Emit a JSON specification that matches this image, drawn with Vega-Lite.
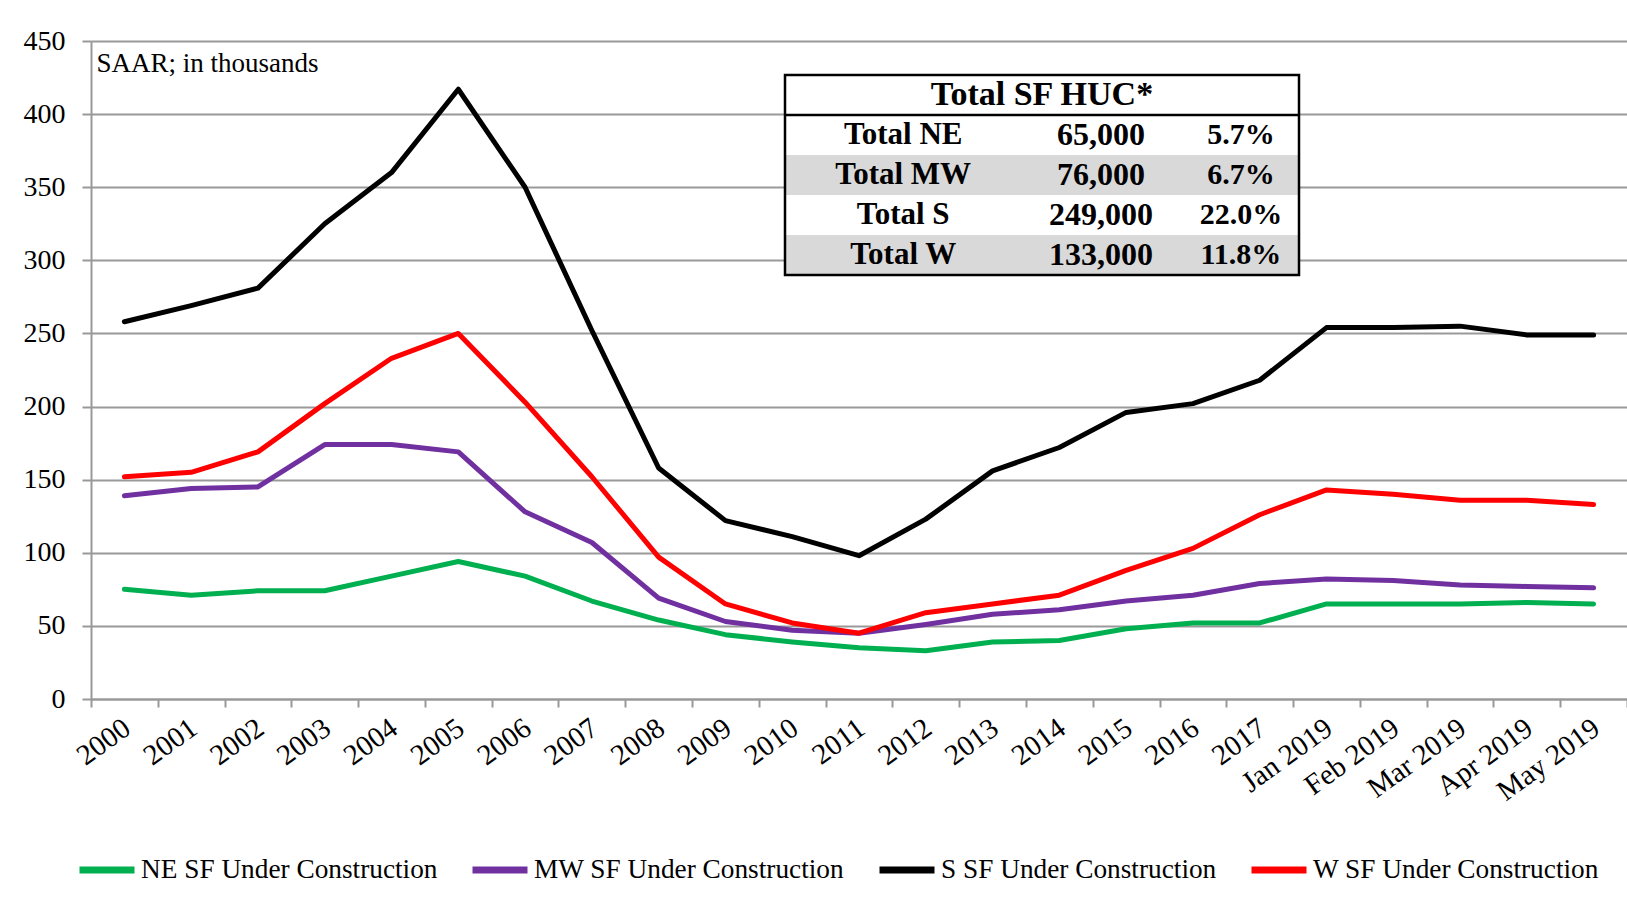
{
  "$schema": "https://vega.github.io/schema/vega-lite/v6.json",
  "width": 1536,
  "height": 658,
  "autosize": {"type": "none"},
  "padding": {"left": 91, "top": 41, "right": 0, "bottom": 216},
  "background": "white",
  "config": {"font": "Liberation Serif", "view": {"stroke": null}},
  "layer": [
    {
      "data": {"values": [
        {"period": "2000", "NE SF Under Construction": 75, "MW SF Under Construction": 139, "S SF Under Construction": 258, "W SF Under Construction": 152},
        {"period": "2001", "NE SF Under Construction": 71, "MW SF Under Construction": 144, "S SF Under Construction": 269, "W SF Under Construction": 155},
        {"period": "2002", "NE SF Under Construction": 74, "MW SF Under Construction": 145, "S SF Under Construction": 281, "W SF Under Construction": 169},
        {"period": "2003", "NE SF Under Construction": 74, "MW SF Under Construction": 174, "S SF Under Construction": 325, "W SF Under Construction": 202},
        {"period": "2004", "NE SF Under Construction": 84, "MW SF Under Construction": 174, "S SF Under Construction": 360, "W SF Under Construction": 233},
        {"period": "2005", "NE SF Under Construction": 94, "MW SF Under Construction": 169, "S SF Under Construction": 417, "W SF Under Construction": 250},
        {"period": "2006", "NE SF Under Construction": 84, "MW SF Under Construction": 128, "S SF Under Construction": 350, "W SF Under Construction": 203},
        {"period": "2007", "NE SF Under Construction": 67, "MW SF Under Construction": 107, "S SF Under Construction": 252, "W SF Under Construction": 152},
        {"period": "2008", "NE SF Under Construction": 54, "MW SF Under Construction": 69, "S SF Under Construction": 158, "W SF Under Construction": 97},
        {"period": "2009", "NE SF Under Construction": 44, "MW SF Under Construction": 53, "S SF Under Construction": 122, "W SF Under Construction": 65},
        {"period": "2010", "NE SF Under Construction": 39, "MW SF Under Construction": 47, "S SF Under Construction": 111, "W SF Under Construction": 52},
        {"period": "2011", "NE SF Under Construction": 35, "MW SF Under Construction": 45, "S SF Under Construction": 98, "W SF Under Construction": 45},
        {"period": "2012", "NE SF Under Construction": 33, "MW SF Under Construction": 51, "S SF Under Construction": 123, "W SF Under Construction": 59},
        {"period": "2013", "NE SF Under Construction": 39, "MW SF Under Construction": 58, "S SF Under Construction": 156, "W SF Under Construction": 65},
        {"period": "2014", "NE SF Under Construction": 40, "MW SF Under Construction": 61, "S SF Under Construction": 172, "W SF Under Construction": 71},
        {"period": "2015", "NE SF Under Construction": 48, "MW SF Under Construction": 67, "S SF Under Construction": 196, "W SF Under Construction": 88},
        {"period": "2016", "NE SF Under Construction": 52, "MW SF Under Construction": 71, "S SF Under Construction": 202, "W SF Under Construction": 103},
        {"period": "2017", "NE SF Under Construction": 52, "MW SF Under Construction": 79, "S SF Under Construction": 218, "W SF Under Construction": 126},
        {"period": "Jan 2019", "NE SF Under Construction": 65, "MW SF Under Construction": 82, "S SF Under Construction": 254, "W SF Under Construction": 143},
        {"period": "Feb 2019", "NE SF Under Construction": 65, "MW SF Under Construction": 81, "S SF Under Construction": 254, "W SF Under Construction": 140},
        {"period": "Mar 2019", "NE SF Under Construction": 65, "MW SF Under Construction": 78, "S SF Under Construction": 255, "W SF Under Construction": 136},
        {"period": "Apr 2019", "NE SF Under Construction": 66, "MW SF Under Construction": 77, "S SF Under Construction": 249, "W SF Under Construction": 136},
        {"period": "May 2019", "NE SF Under Construction": 65, "MW SF Under Construction": 76, "S SF Under Construction": 249, "W SF Under Construction": 133}
      ]},
      "layer": [
        {
          "transform": [{"fold": ["NE SF Under Construction", "MW SF Under Construction", "S SF Under Construction", "W SF Under Construction"], "as": ["series", "value"]}],
          "mark": {"type": "line", "strokeWidth": 5, "strokeJoin": "round", "strokeCap": "round"},
          "encoding": {
            "x": {"field": "period", "type": "nominal", "sort": null,
              "scale": {"domain": ["2000","2001","2002","2003","2004","2005","2006","2007","2008","2009","2010","2011","2012","2013","2014","2015","2016","2017","Jan 2019","Feb 2019","Mar 2019","Apr 2019","May 2019"], "paddingInner": 0, "paddingOuter": 0},
              "axis": {"title": null, "labelAngle": -36, "labelFontSize": 29, "labelColor": "black", "labelFont": "Liberation Serif", "tickBand": "extent", "tickSize": 8, "tickColor": "#999999", "tickWidth": 2, "domainColor": "#999999", "domainWidth": 2, "labelPadding": 6, "labelOffset": -6, "grid": false}},
            "y": {"field": "value", "type": "quantitative", "scale": {"domain": [0, 450], "nice": false},
              "axis": {"title": null, "values": [0,50,100,150,200,250,300,350,400,450], "labelFontSize": 28, "labelColor": "black", "labelFont": "Liberation Serif", "tickSize": 9, "tickColor": "#999999", "tickWidth": 2, "domainColor": "#999999", "domainWidth": 2, "gridColor": "#999999", "gridWidth": 2, "labelPadding": 17}},
            "color": {"field": "series", "type": "nominal",
              "scale": {"domain": ["NE SF Under Construction", "MW SF Under Construction", "S SF Under Construction", "W SF Under Construction"], "range": ["#00B050", "#7030A0", "#000000", "#FF0000"]},
              "legend": {"orient": "none", "legendX": -15, "legendY": 798, "direction": "horizontal", "title": null, "symbolType": "stroke", "symbolStrokeWidth": 7, "symbolSize": 3025, "labelFontSize": 27.3, "labelFont": "Liberation Serif", "labelColor": "black", "labelOffset": 3, "columnPadding": 20, "labelLimit": 0}}
          }
        },
        {
          "data": {"values": [{"note": "SAAR; in thousands"}]},
          "mark": {"type": "text", "align": "left", "baseline": "middle", "fontSize": 27, "dx": -28, "color": "black"},
          "encoding": {
            "x": {"datum": "2000", "type": "nominal"},
            "y": {"datum": 434, "type": "quantitative"},
            "text": {"field": "note"}
          }
        }
      ]
    },
    {
      "data": {"values": [
        {"row": "hdr", "label": "Total SF HUC*"},
        {"row": "NE", "label": "Total NE", "value": "65,000", "pct": "5.7%"},
        {"row": "MW", "label": "Total MW", "value": "76,000", "pct": "6.7%"},
        {"row": "S", "label": "Total S", "value": "249,000", "pct": "22.0%"},
        {"row": "W", "label": "Total W", "value": "133,000", "pct": "11.8%"}
      ]},
      "encoding": {
        "y": {"field": "row", "type": "nominal", "scale": {"type": "band", "domain": ["hdr", "NE", "MW", "S", "W"], "range": [34, 234], "paddingInner": 0, "paddingOuter": 0}, "axis": null}
      },
      "layer": [
        {
          "mark": {"type": "rect"},
          "encoding": {
            "x": {"datum": 0, "type": "quantitative", "scale": {"domain": [0, 1], "range": [694, 1208]}, "axis": null},
            "x2": {"datum": 1},
            "fill": {"condition": {"test": "datum.row === 'MW' || datum.row === 'W'", "value": "#d9d9d9"}, "value": "white"}
          }
        },
        {
          "transform": [{"filter": "datum.row === 'hdr'"}],
          "mark": {"type": "text", "fontWeight": "bold", "fontSize": 34, "color": "black"},
          "encoding": {"x": {"datum": 0.5, "type": "quantitative"}, "text": {"field": "label"}}
        },
        {
          "transform": [{"filter": "datum.row !== 'hdr'"}],
          "mark": {"type": "text", "fontWeight": "bold", "fontSize": 31, "color": "black"},
          "encoding": {"x": {"datum": 0.23, "type": "quantitative"}, "text": {"field": "label"}}
        },
        {
          "transform": [{"filter": "datum.row !== 'hdr'"}],
          "mark": {"type": "text", "fontWeight": "bold", "fontSize": 32, "color": "black"},
          "encoding": {"x": {"datum": 0.615, "type": "quantitative"}, "text": {"field": "value"}}
        },
        {
          "transform": [{"filter": "datum.row !== 'hdr'"}],
          "mark": {"type": "text", "fontWeight": "bold", "fontSize": 30, "color": "black"},
          "encoding": {"x": {"datum": 0.887, "type": "quantitative"}, "text": {"field": "pct"}}
        }
      ]
    },
    {
      "data": {"values": [{"box": "border"}]},
      "layer": [
        {
          "mark": {"type": "rect", "fill": "transparent", "stroke": "black", "strokeWidth": 2.5},
          "encoding": {
            "x": {"datum": 0, "type": "quantitative", "scale": {"domain": [0, 1], "range": [694, 1208]}, "axis": null},
            "x2": {"datum": 1},
            "y": {"datum": 0, "type": "quantitative", "scale": {"domain": [0, 1], "range": [34, 234]}, "axis": null},
            "y2": {"datum": 1}
          }
        },
        {
          "mark": {"type": "rule", "stroke": "black", "strokeWidth": 2.5},
          "encoding": {
            "x": {"datum": 0, "type": "quantitative"},
            "x2": {"datum": 1},
            "y": {"datum": 0.2, "type": "quantitative"}
          }
        }
      ]
    }
  ],
  "resolve": {"scale": {"x": "independent", "y": "independent"}}
}
